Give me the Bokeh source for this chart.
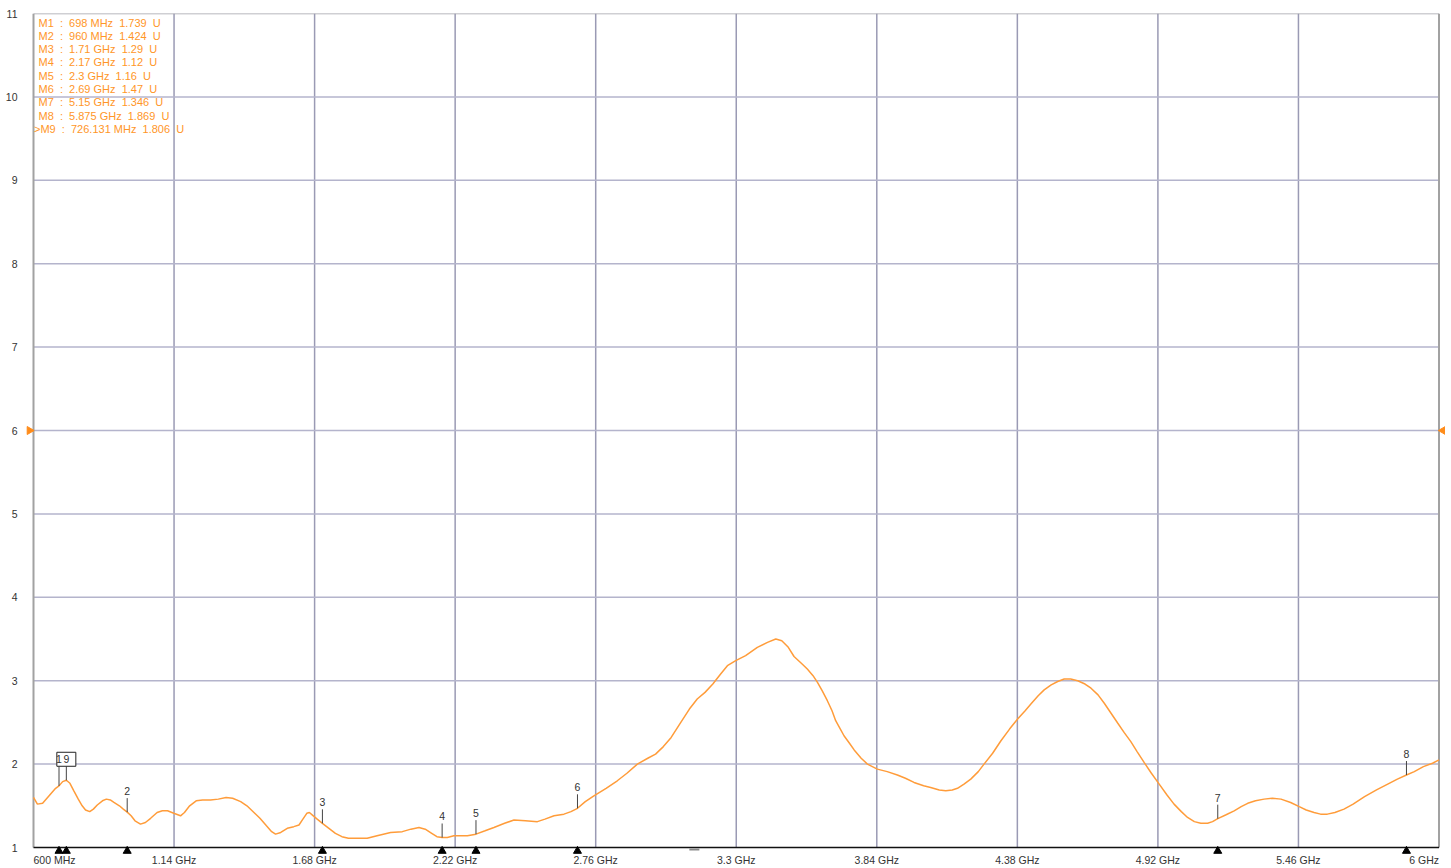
import math
from bokeh.plotting import figure
from bokeh.models import Range1d, FixedTicker
from bokeh.core.properties import value
from bokeh.embed import file_html
from bokeh.resources import INLINE

# ---------------- data ----------------
freq_mhz = [600, 615, 635, 660, 685, 698, 712, 726.131, 740, 755, 772, 787, 800, 816, 830, 845,
            865, 880, 895, 909, 930, 945, 960, 975, 990, 1011, 1030, 1050, 1075, 1095, 1115,
            1139, 1165, 1180, 1200, 1225, 1250, 1280, 1310, 1340, 1365, 1396, 1420, 1447, 1470,
            1495, 1515, 1530, 1550, 1575, 1600, 1620, 1635, 1650, 1660, 1675, 1690, 1710, 1735,
            1760, 1785, 1810, 1850, 1882, 1920, 1972, 2017, 2050, 2081, 2105, 2130, 2150, 2170,
            2190, 2215, 2267, 2300, 2335, 2369, 2410, 2446, 2490, 2536, 2565, 2600, 2638, 2665,
            2690, 2720, 2753, 2800, 2843, 2880, 2920, 2960, 2990, 3020, 3050, 3087, 3120, 3150,
            3180, 3210, 3240, 3266, 3298, 3336, 3381, 3420, 3452, 3475, 3500, 3522, 3550, 3573,
            3595, 3612, 3630, 3650, 3668, 3682, 3700, 3714, 3735, 3753, 3780, 3804, 3842, 3880,
            3919, 3950, 3983, 4020, 4047, 4080, 4105, 4130, 4150, 4175, 4201, 4230, 4252, 4285,
            4317, 4350, 4381, 4410, 4432, 4460, 4483, 4510, 4535, 4560, 4585, 4612, 4640, 4663,
            4690, 4714, 4740, 4766, 4790, 4816, 4840, 4867, 4895, 4925, 4955, 4982, 5010, 5034,
            5060, 5085, 5111, 5130, 5150, 5180, 5213, 5240, 5265, 5295, 5328, 5360, 5393, 5430,
            5463, 5490, 5520, 5545, 5571, 5600, 5635, 5670, 5714, 5760, 5803, 5840, 5875, 5905,
            5940, 5975, 6000]
vswr = [1.60, 1.52, 1.53, 1.62, 1.71, 1.739, 1.79, 1.806, 1.77, 1.68, 1.58, 1.50, 1.45, 1.43, 1.46, 1.51,
        1.56, 1.58, 1.57, 1.54, 1.50, 1.46, 1.424, 1.38, 1.32, 1.28, 1.30, 1.35, 1.42, 1.44, 1.44,
        1.41, 1.38, 1.42, 1.50, 1.56, 1.57, 1.57, 1.58, 1.60, 1.59, 1.55, 1.50, 1.42, 1.35,
        1.26, 1.19, 1.16, 1.18, 1.23, 1.25, 1.27, 1.34, 1.41, 1.42, 1.38, 1.34, 1.29, 1.23,
        1.17, 1.13, 1.11, 1.11, 1.11, 1.14, 1.18, 1.19, 1.22, 1.24, 1.22, 1.17, 1.13, 1.12,
        1.12, 1.14, 1.14, 1.16, 1.20, 1.24, 1.29, 1.33, 1.32, 1.31, 1.34, 1.38, 1.40, 1.43,
        1.47, 1.55, 1.62, 1.71, 1.80, 1.89, 2.00, 2.07, 2.12, 2.21, 2.32, 2.50, 2.66, 2.78,
        2.86, 2.96, 3.08, 3.18, 3.24, 3.30, 3.40, 3.46, 3.50, 3.48, 3.40, 3.29, 3.21, 3.14,
        3.06, 2.98, 2.88, 2.76, 2.64, 2.52, 2.42, 2.34, 2.25, 2.17, 2.07, 2.00, 1.94, 1.91,
        1.87, 1.83, 1.78, 1.74, 1.72, 1.69, 1.68, 1.69, 1.71, 1.76, 1.82, 1.91, 2.00, 2.13,
        2.28, 2.42, 2.54, 2.64, 2.72, 2.82, 2.89, 2.95, 2.99, 3.02, 3.02, 3.00, 2.96, 2.91,
        2.83, 2.73, 2.61, 2.49, 2.38, 2.27, 2.15, 2.02, 1.89, 1.76, 1.63, 1.52, 1.43, 1.36,
        1.31, 1.29, 1.29, 1.31, 1.346, 1.39, 1.44, 1.49, 1.53, 1.56, 1.58, 1.59, 1.58, 1.54,
        1.49, 1.45, 1.42, 1.40, 1.40, 1.42, 1.46, 1.52, 1.61, 1.69, 1.76, 1.82, 1.869, 1.91,
        1.97, 2.01, 2.05]

x_ticks = [600, 1140, 1680, 2220, 2760, 3300, 3840, 4380, 4920, 5460, 6000]
x_tick_labels = ["600 MHz", "1.14 GHz", "1.68 GHz", "2.22 GHz", "2.76 GHz", "3.3 GHz",
                 "3.84 GHz", "4.38 GHz", "4.92 GHz", "5.46 GHz", "6 GHz"]
y_ticks = [1, 2, 3, 4, 5, 6, 7, 8, 9, 10, 11]

marker_ids = [1, 2, 3, 4, 5, 6, 7, 8, 9]
marker_freq = [698, 960, 1710, 2170, 2300, 2690, 5150, 5875, 726.131]
marker_vswr = [1.739, 1.424, 1.29, 1.12, 1.16, 1.47, 1.346, 1.869, 1.806]
active_marker = 9
ref_level = 6
aux_mark_freq = 3139

# ---------------- layout ----------------
W, H = 1445, 868
BL, BR, BT, BB = 20, 0, 13, 0
X_LO, X_HI = 600, 6000
Y_LO, Y_HI = 1, 11
px_x_lo, px_x_hi = 33, 1438.5     # canvas pixel of 600 MHz / 6 GHz
px_y_hi, px_y_lo = 13, 847        # canvas pixel of 11 / 1
kx = (px_x_hi - px_x_lo) / (X_HI - X_LO)
ky = (px_y_lo - px_y_hi) / (Y_HI - Y_LO)
x_start = X_LO - (px_x_lo - BL) / kx
x_end = X_HI + ((W - BR) - px_x_hi) / kx
y_end = Y_HI + (px_y_hi - BT) / ky
y_start = Y_LO - ((H - BB) - px_y_lo) / ky

FONT = "Liberation Sans"
ORANGE = "#ff9c3a"
TEXT_ORANGE = "#ff9628"
LABEL_GREY = "#333333"

p = figure(width=W, height=H, output_backend="svg", toolbar_location=None,
           x_range=Range1d(x_start, x_end), y_range=Range1d(y_start, y_end),
           min_border_left=BL, min_border_right=BR, min_border_top=BT, min_border_bottom=BB)
p.outline_line_color = None
p.background_fill_color = "white"
p.border_fill_color = "white"
p.xgrid.visible = False
p.ygrid.visible = False

# y axis
p.yaxis.ticker = FixedTicker(ticks=y_ticks)
p.yaxis.axis_line_color = None
p.yaxis.major_tick_line_color = None
p.yaxis.minor_tick_line_color = None
p.yaxis.major_tick_out = 0
p.yaxis.minor_tick_out = 0
p.yaxis.major_label_standoff = 3
p.yaxis.major_label_text_font = FONT
p.yaxis.major_label_text_font_size = "10.5px"
p.yaxis.major_label_text_color = LABEL_GREY

# x axis, placed inside the frame just below the y=1 line
x_label_y = Y_LO - 6 / ky
overrides = {t: lab for t, lab in zip(x_ticks, x_tick_labels)}
overrides[x_ticks[0]] = " "
overrides[x_ticks[-1]] = " "
p.xaxis.fixed_location = x_label_y
p.xaxis.ticker = FixedTicker(ticks=x_ticks)
p.xaxis.major_label_overrides = overrides
p.xaxis.axis_line_color = None
p.xaxis.major_tick_line_color = None
p.xaxis.minor_tick_line_color = None
p.xaxis.major_tick_out = 0
p.xaxis.minor_tick_out = 0
p.xaxis.major_label_standoff = 0
p.xaxis.major_label_text_font = FONT
p.xaxis.major_label_text_font_size = "10.5px"
p.xaxis.major_label_text_color = LABEL_GREY

# end tick labels aligned to the frame edges
p.text(x=[x_ticks[0]], y=[x_label_y], text=[x_tick_labels[0]], text_align="left",
       text_baseline="top", text_font=value(FONT), text_font_size="10.5px", text_color=LABEL_GREY)
p.text(x=[x_ticks[-1]], y=[x_label_y], text=[x_tick_labels[-1]], text_align="right",
       text_baseline="top", text_font=value(FONT), text_font_size="10.5px", text_color=LABEL_GREY)

# grid
inner_x = x_ticks[1:-1]
p.segment(x0=inner_x, y0=[Y_LO] * len(inner_x), x1=inner_x, y1=[Y_HI] * len(inner_x),
          line_color="#9a9ab4", line_width=1.5)
inner_y = y_ticks[1:-1]
p.segment(x0=[X_LO] * len(inner_y), y0=inner_y, x1=[X_HI] * len(inner_y), y1=inner_y,
          line_color="#b4b4cc", line_width=1.5)
p.segment(x0=[X_LO], y0=[Y_HI], x1=[X_HI], y1=[Y_HI], line_color="#a0a0a8", line_width=1.5)
p.segment(x0=[X_LO, X_HI], y0=[Y_LO, Y_LO], x1=[X_LO, X_HI], y1=[Y_HI, Y_HI],
          line_color="#a2a2a2", line_width=2)
p.segment(x0=[X_LO], y0=[Y_LO], x1=[X_HI], y1=[Y_LO], line_color="#111111", line_width=1.5)

# reference level arrows
p.scatter(x=[X_LO - 4 / kx], y=[ref_level], marker="triangle", size=8, angle=-math.pi / 2,
          fill_color="#ff8c1a", line_color="#ff8c1a")
p.scatter(x=[X_HI + 4 / kx], y=[ref_level], marker="triangle", size=8, angle=math.pi / 2,
          fill_color="#ff8c1a", line_color="#ff8c1a")

# small auxiliary dash below the axis
p.scatter(x=[aux_mark_freq], y=[Y_LO - 2 / ky], marker="dash", size=10,
          line_color="#8a8a8a", line_width=2)

# trace
p.line(freq_mhz, vswr, line_color=ORANGE, line_width=1.5)

# markers
tick_len = 14 / ky
tops = [v + tick_len for v in marker_vswr]
for i in range(len(marker_freq)):
    for j in range(len(marker_freq)):
        if i != j and abs(marker_freq[i] - marker_freq[j]) < 60:
            tops[i] = max(tops[i], marker_vswr[j] + tick_len)
p.segment(x0=marker_freq, y0=marker_vswr, x1=marker_freq, y1=tops, line_color="#444444", line_width=1)

label_y = [t + 7 / ky for t in tops]
ai = marker_ids.index(active_marker)
p.rect(x=[marker_freq[ai]], y=[label_y[ai]], width=19, height=14, width_units="screen",
       height_units="screen", fill_color="white", line_color="#222222", line_width=1)
p.text(x=marker_freq, y=label_y, text=[str(m) for m in marker_ids], text_align="center",
       text_baseline="middle", text_font=value(FONT), text_font_size="10.5px", text_color=LABEL_GREY)

# bottom triangles
p.scatter(x=marker_freq, y=[Y_LO - 3.5 / ky] * len(marker_freq), marker="triangle", size=8,
          fill_color="black", line_color="black")

# marker readout list
def fmt_freq(f):
    return f"{f:g} MHz" if f < 1000 else f"{f / 1000:g} GHz"

NB = "\u00a0"
lines, lx, ly = [], [], []
for k, (m, f, v) in enumerate(zip(marker_ids, marker_freq, marker_vswr)):
    prefix = ">" if m == active_marker else ""
    lines.append(f"{prefix}M{m}{NB} :{NB} {fmt_freq(f)}{NB} {v:g}{NB} U")
    lx.append(X_LO + (0.5 if m == active_marker else 5) / kx)
    ly.append(Y_HI - (9 + 13.3 * k) / ky)
p.text(x=lx, y=ly, text=lines, text_align="left", text_baseline="middle",
       text_font=value(FONT), text_font_size="11px", text_color=TEXT_ORANGE)

open("out.html", "w").write(file_html(p, INLINE))
